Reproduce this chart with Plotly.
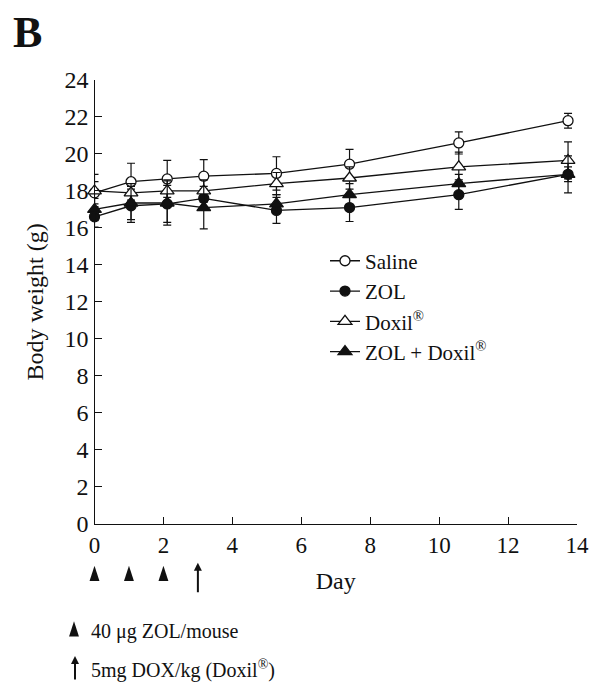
import plotly.graph_objects as go

# ---- data ----
days_plotted = [0, 1.06, 2.11, 3.17, 5.28, 7.40, 10.57, 13.74]

saline = [17.9, 18.5, 18.65, 18.8, 18.95, 19.45, 20.6, 21.8]
saline_err = [0.6, 1.0, 1.0, 0.9, 0.9, 0.8, 0.6, 0.4]

zol = [16.6, 17.2, 17.3, 17.6, 16.95, 17.1, 17.8, 18.9]
zol_err = [0.55, 0.9, 1.0, 0.5, 0.7, 0.75, 0.8, 0.4]

doxil = [18.0, 17.9, 18.0, 18.0, 18.4, 18.7, 19.3, 19.65]
doxil_err = [0.9, 0.5, 0.6, 0.6, 0.6, 0.6, 0.8, 1.0]

zol_doxil = [17.0, 17.35, 17.35, 17.1, 17.3, 17.8, 18.4, 18.9]
zol_doxil_err = [0.6, 0.9, 1.2, 1.15, 0.5, 0.6, 0.5, 1.0]

series_names = ["Saline", "ZOL", "Doxil<sup>®</sup>", "ZOL + Doxil<sup>®</sup>"]

zol_injection_days = [0, 1, 2]
dox_injection_days = [3]

x_ticks = [0, 2, 4, 6, 8, 10, 12, 14]
y_ticks = [0, 2, 4, 6, 8, 10, 12, 14, 16, 18, 20, 22, 24]

FONT = "Liberation Serif"
INK = "#111111"

# ---- page geometry (pixels) ----
W, H = 610, 686
ML, MR, MT, MB = 40, 33, 80, 20
PW, PH = W - ML - MR, H - MT - MB
X0_PX, X14_PX = 94.5, 577.0       # where day 0 / day 14 fall
Y0_PX = 527.7                     # where 0 g falls


def px_x(p):
    return (p - ML) / PW


def px_y(p):
    return (H - MB - p) / PH


styles = [
    dict(symbol="circle", color="white", size=10),
    dict(symbol="circle", color=INK, size=10),
    dict(symbol="triangle-up", color="white", size=12),
    dict(symbol="triangle-up", color=INK, size=12),
]
values = [saline, zol, doxil, zol_doxil]
errors = [saline_err, zol_err, doxil_err, zol_doxil_err]

fig = go.Figure()
for name, vals, errs, st in zip(series_names, values, errors, styles):
    fig.add_trace(go.Scatter(
        x=days_plotted, y=vals, name=name, mode="lines+markers",
        line=dict(color=INK, width=1.3),
        marker=dict(symbol=st["symbol"], size=st["size"], color=st["color"],
                    line=dict(color=INK, width=1.3)),
        error_y=dict(type="data", array=errs, visible=True, color=INK,
                     thickness=1.2, width=4),
        cliponaxis=False,
    ))

# injection-schedule strip below the chart (its own hidden axes, same day scale)
px_per_day = (X14_PX - X0_PX) / 14
x2_range = [-(X0_PX - ML) / px_per_day, 14]
strip_top_px = 548.8
row_chevrons_px, row_key_px = 570, 626      # chevron tips
y2_span = (H - MB) - strip_top_px


def strip_y(p):
    return (H - MB - p) / y2_span


CHEVRON = dict(symbol="arrow", size=16, color=INK, line=dict(width=0))
fig.add_trace(go.Scatter(
    x=zol_injection_days, y=[strip_y(row_chevrons_px)] * len(zol_injection_days),
    xaxis="x2", yaxis="y2", mode="markers", marker=CHEVRON,
    showlegend=False, hoverinfo="skip",
))
fig.add_trace(go.Scatter(
    x=[-(X0_PX - 74) / px_per_day], y=[strip_y(row_key_px)],
    xaxis="x2", yaxis="y2", mode="markers", marker=CHEVRON,
    showlegend=False, hoverinfo="skip",
))


def up_arrow(x, xref, y, length):
    fig.add_annotation(x=x, xref=xref, y=y, yref="paper", text="",
                       showarrow=True, ax=0, ay=length, arrowhead=2, arrowsize=0.8,
                       arrowwidth=2, arrowcolor=INK)


for d in dox_injection_days:
    up_arrow(d, "x", px_y(567), 31)

# key texts
up_arrow(px_x(75), "paper", px_y(661), 25)
fig.add_annotation(x=px_x(89), xref="paper", y=px_y(636), yref="paper",
                   xanchor="left", yanchor="middle",
                   text="40 μg ZOL/mouse", showarrow=False,
                   font=dict(family=FONT, size=20, color=INK))
fig.add_annotation(x=px_x(89), xref="paper", y=px_y(675), yref="paper",
                   xanchor="left", yanchor="middle",
                   text="5mg DOX/kg (Doxil<sup>®</sup>)", showarrow=False,
                   font=dict(family=FONT, size=20, color=INK))

# panel letter
fig.add_annotation(x=px_x(27), xref="paper", y=px_y(32), yref="paper",
                   xanchor="center", yanchor="middle", text="<b>B</b>",
                   showarrow=False, font=dict(family=FONT, size=44, color=INK))

title_font = dict(family=FONT, size=24, color=INK)

fig.update_layout(
    width=W, height=H,
    margin=dict(l=ML, r=MR, t=MT, b=MB),
    paper_bgcolor="white", plot_bgcolor="white",
    font=dict(family=FONT, size=22, color=INK),
    showlegend=True,
    legend=dict(x=px_x(325), y=px_y(242), xanchor="left", yanchor="top",
                bgcolor="rgba(0,0,0,0)",
                font=dict(family=FONT, size=21, color=INK),
                tracegroupgap=0),
    xaxis=dict(domain=[px_x(X0_PX), px_x(X14_PX)], anchor="y",
               range=[0, 14], tickvals=x_ticks, ticks="inside", ticklen=7,
               tickwidth=1.2, tickcolor=INK, showline=True, linecolor=INK,
               linewidth=1.3, showgrid=False, zeroline=False,
               title=dict(text="Day", standoff=15, font=title_font),
               tickfont=dict(family=FONT, size=23, color=INK)),
    yaxis=dict(domain=[px_y(Y0_PX), 1], anchor="x",
               range=[0, 24], tickvals=y_ticks, ticks="inside", ticklen=7,
               tickwidth=1.2, tickcolor=INK, showline=True, linecolor=INK,
               linewidth=1.3, showgrid=False, zeroline=False,
               title=dict(text="Body weight (g)", standoff=14, font=title_font),
               tickfont=dict(family=FONT, size=24, color=INK)),
    xaxis2=dict(domain=[0, px_x(X14_PX)], anchor="y2", range=x2_range, visible=False),
    yaxis2=dict(domain=[0, px_y(strip_top_px)], anchor="x2", range=[0, 1], visible=False),
)

fig.write_html("out.html")
